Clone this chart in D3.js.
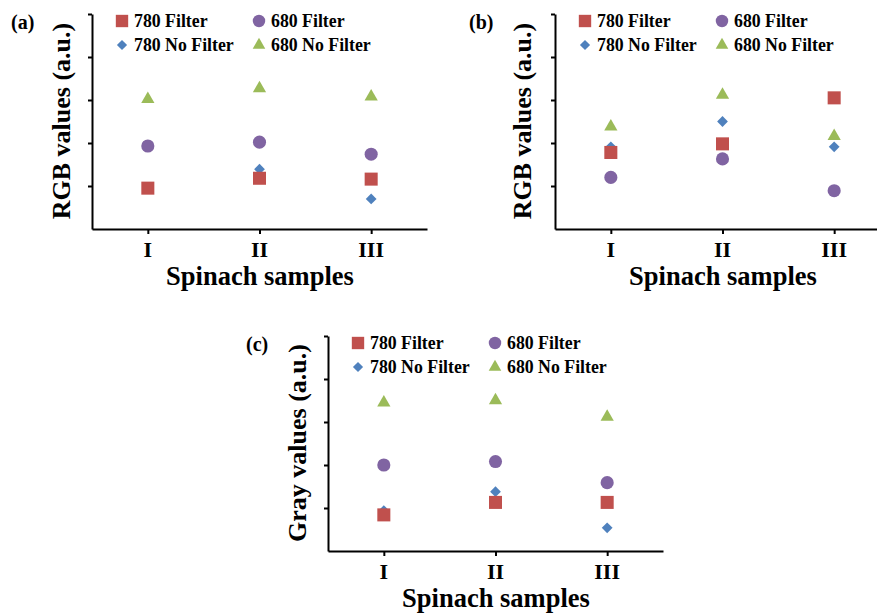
<!DOCTYPE html>
<html>
<head>
<meta charset="utf-8">
<script src="https://cdn.jsdelivr.net/npm/d3@7"></script>
<style>
  body { margin: 0; background: #fff; }
  svg { display: block; font-family: "Liberation Serif", "Times New Roman", serif; font-weight: bold; }
</style>
</head>
<body>
<div id="chart"></div>
<script>
// categories and legend
const categories = ['I', 'II', 'III'];
const seriesNames = ['780 Filter', '680 Filter', '780 No Filter', '680 No Filter'];
const yTicks = [1, 2, 3, 4, 5];

// (a) RGB values, 780 nm / 680 nm
const a780Filter = [0.95, 1.18, 1.16];
const a680Filter = [1.93, 2.02, 1.74];
const a780NoFilter = [0.97, 1.39, 0.70];
const a680NoFilter = [3.02, 3.27, 3.08];

// (b) RGB values
const b780Filter = [1.78, 1.98, 3.05];
const b680Filter = [1.20, 1.63, 0.89];
const b780NoFilter = [1.91, 2.50, 1.91];
const b680NoFilter = [2.38, 3.12, 2.16];

// (c) Gray values
const c780Filter = [0.84, 1.13, 1.13];
const c680Filter = [2.00, 2.08, 1.59];
const c780NoFilter = [0.94, 1.38, 0.54];
const c680NoFilter = [3.45, 3.50, 3.12];

const colors = {
    '780 Filter': '#c0504d',
    '680 Filter': '#8064a2',
    '780 No Filter': '#4f81bd',
    '680 No Filter': '#9bbb59'
};

const W = 877, H = 613;
const svg = d3.select('#chart').append('svg')
    .attr('width', W)
    .attr('height', H);

// marker shape for each series
function marker(sel, name, big) {
    let k = big ? 1 : 0.9;
    if (name === '780 Filter') {
        sel.append('path').attr('d', d3.symbol(d3.symbolSquare, 170 * k)());
    } else if (name === '680 Filter') {
        sel.append('path').attr('d', d3.symbol(d3.symbolCircle, 135 * k)());
    } else if (name === '780 No Filter') {
        sel.append('path').attr('d', d3.symbol(d3.symbolSquare, 58 * k)()).attr('transform', 'rotate(45)');
    } else {
        sel.append('path').attr('d', d3.symbol(d3.symbolTriangle, 76 * k)());
    }
    sel.selectAll('path').attr('fill', colors[name]);
}

function drawPanel(p) {
    let x = d3.scalePoint().domain(categories).range([p.left, p.left + 335]).padding(0.5);
    let y = d3.scaleLinear().domain([0, 5]).range([p.bottom, p.bottom - 215]);

    let g = svg.append('g');

    g.append('g')
        .attr('transform', 'translate(0,' + p.bottom + ')')
        .call(d3.axisBottom(x).tickSize(5).tickSizeOuter(0).tickPadding(8))
        .call(ax => ax.selectAll('text').remove());

    g.append('g')
        .attr('transform', 'translate(' + p.left + ',0)')
        .call(d3.axisLeft(y).tickValues(yTicks).tickSize(4).tickSizeOuter(0).tickFormat(''));

    g.selectAll('.domain, .tick line')
        .attr('stroke', '#000')
        .attr('stroke-width', 2);

    // category labels
    g.selectAll('.cat')
        .data(categories)
        .enter()
        .append('text')
        .attr('x', d => x(d))
        .attr('y', p.bottom + 28)
        .attr('text-anchor', 'middle')
        .style('font-size', '22px')
        .text(d => d);

    // draw order: triangles, circles, diamonds, squares
    let order = [3, 1, 2, 0];
    order.forEach(function (i) {
        let name = seriesNames[i];
        p.series[i].forEach(function (v, j) {
            let m = g.append('g').attr('transform', 'translate(' + x(categories[j]) + ',' + y(v) + ')');
            marker(m, name, true);
        });
    });

    // legend
    seriesNames.forEach(function (name, i) {
        let lx = p.left + (i % 2 === 0 ? 30 : 167);
        let ly = y(5) + (i < 2 ? 7 : 31);
        let m = g.append('g').attr('transform', 'translate(' + lx + ',' + ly + ')');
        marker(m, name, false);
        g.append('text')
            .attr('x', lx + 12)
            .attr('y', ly + 6)
            .style('font-size', '17.8px')
            .text(name);
    });

    // axis titles
    g.append('text')
        .attr('x', p.left + 168)
        .attr('y', p.bottom + 56)
        .attr('text-anchor', 'middle')
        .style('font-size', '26.5px')
        .text('Spinach samples');

    g.append('text')
        .attr('transform', 'translate(' + (p.left - p.ylabOff) + ',' + (p.bottom - 108) + ') rotate(-90)')
        .attr('text-anchor', 'middle')
        .style('font-size', '26px')
        .text(p.ylabel);

    g.append('text')
        .attr('x', p.tagX)
        .attr('y', p.bottom - 200)
        .style('font-size', '20px')
        .text(p.tag);
}

drawPanel({ left: 92, bottom: 229, tag: '(a)', tagX: 11, ylabOff: 22, ylabel: 'RGB values (a.u.)',
    series: [a780Filter, a680Filter, a780NoFilter, a680NoFilter] });
drawPanel({ left: 555, bottom: 229, tag: '(b)', tagX: 469, ylabOff: 24, ylabel: 'RGB values (a.u.)',
    series: [b780Filter, b680Filter, b780NoFilter, b680NoFilter] });
drawPanel({ left: 328, bottom: 551, tag: '(c)', tagX: 246, ylabOff: 22, ylabel: 'Gray values (a.u.)',
    series: [c780Filter, c680Filter, c780NoFilter, c680NoFilter] });
</script>
</body>
</html>
